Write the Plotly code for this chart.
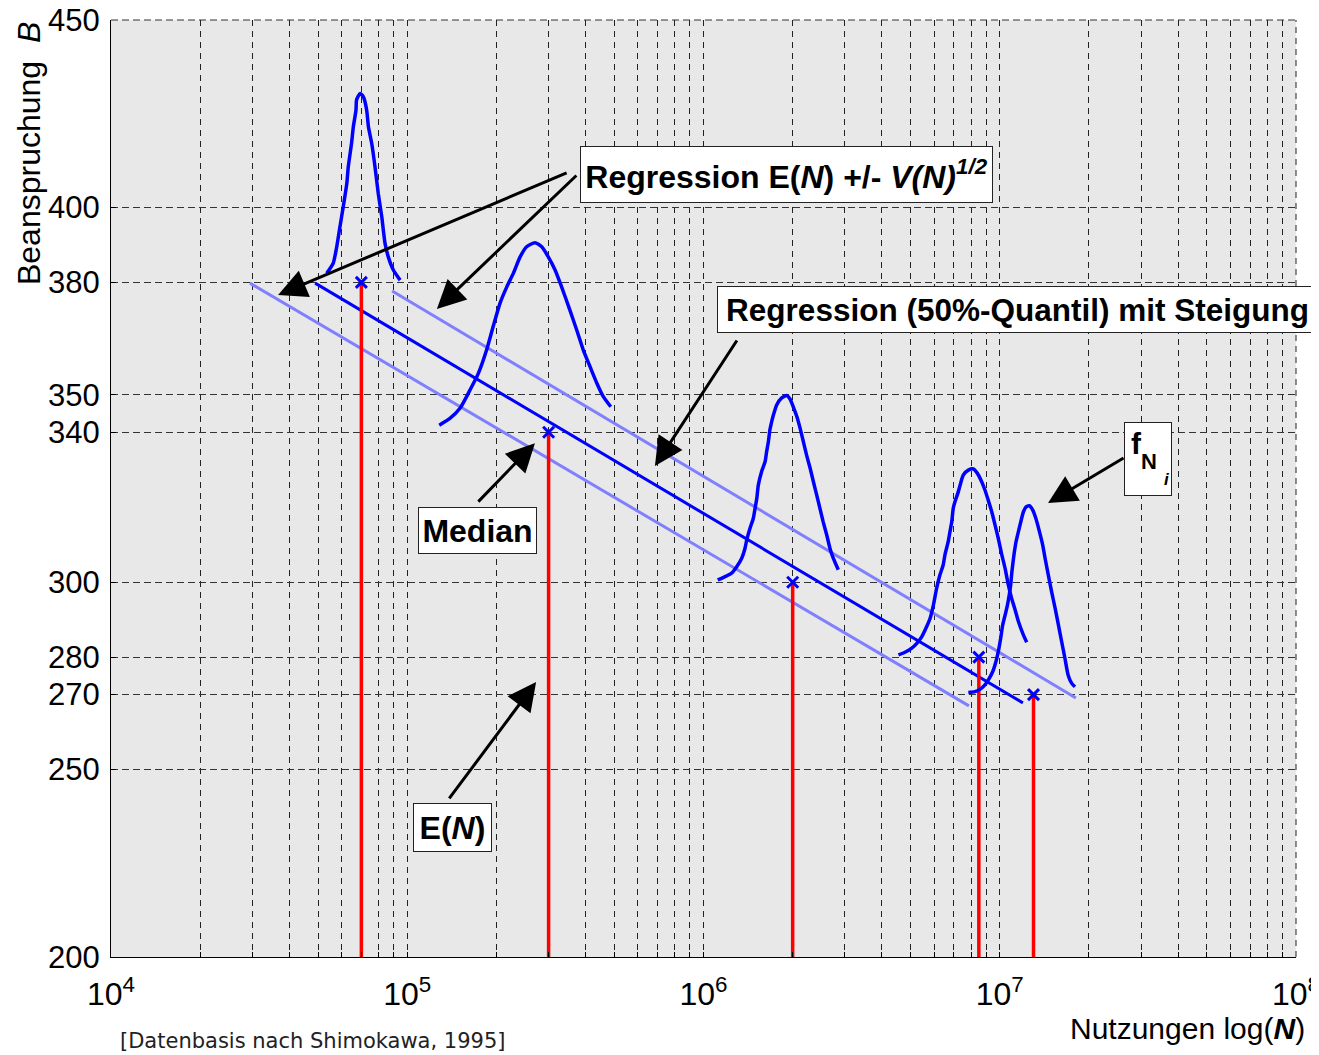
import plotly.graph_objects as go

# ---------------- data ----------------
N_points = [7.0e4, 3.0e5, 2.0e6, 8.5e6, 1.3e7]
B_points = [380, 340, 300, 280, 270]

# regression lines (log10 N, B)
reg_med_logN = [4.689, 7.078]
reg_med_B = [379.8, 267.8]
reg_up_logN = [4.949, 7.257]
reg_up_B = [377.7, 269.1]
reg_lo_logN = [4.469, 6.896]
reg_lo_B = [379.8, 267.0]

# density curves f_Ni (log10 N, B)
f1_logN = [4.728, 4.750, 4.762, 4.773, 4.784, 4.796, 4.801, 4.812, 4.818, 4.827, 4.829, 4.841,
           4.852, 4.863, 4.869, 4.880, 4.891, 4.902, 4.914, 4.925, 4.936, 4.953, 4.976]
f1_B = [382.4, 385.1, 389.5, 394.9, 400.2, 406.4, 410.9, 417.1, 421.5, 426.0, 428.7, 430.4,
        429.5, 426.0, 421.5, 417.1, 410.9, 403.8, 397.5, 390.4, 386.8, 383.3, 380.6]

f2_logN = [5.108, 5.144, 5.178, 5.212, 5.240, 5.268, 5.290, 5.313, 5.336, 5.358, 5.381, 5.403,
           5.431, 5.454, 5.476, 5.499, 5.521, 5.549, 5.572, 5.594, 5.617, 5.640, 5.662, 5.687]
f2_B = [341.9, 343.7, 346.4, 351.3, 355.7, 362.0, 368.2, 374.4, 378.8, 382.4, 386.8, 389.5,
        390.6, 389.5, 386.8, 383.3, 378.8, 372.6, 367.3, 362.0, 357.5, 353.1, 349.5, 346.8]

f3_logN = [6.048, 6.073, 6.095, 6.112, 6.129, 6.140, 6.146, 6.157, 6.168, 6.174, 6.180, 6.185,
           6.196, 6.208, 6.213, 6.219, 6.224, 6.230, 6.236, 6.247, 6.264, 6.281, 6.292, 6.303,
           6.315, 6.326, 6.337, 6.348, 6.360, 6.371, 6.382, 6.393, 6.404, 6.416, 6.427, 6.438, 6.455]
f3_B = [300.6, 301.5, 302.4, 304.1, 306.4, 309.0, 311.3, 314.4, 317.0, 319.7, 322.4, 325.9,
        329.5, 332.2, 334.8, 337.5, 340.6, 342.8, 344.6, 347.3, 349.2, 349.8, 348.9, 346.8,
        344.2, 341.1, 337.5, 333.9, 330.4, 326.8, 323.3, 319.7, 316.1, 312.6, 309.0, 306.4, 303.3]

f4_logN = [6.658, 6.680, 6.703, 6.720, 6.737, 6.753, 6.765, 6.776, 6.787, 6.798, 6.809, 6.815,
           6.826, 6.832, 6.838, 6.843, 6.849, 6.860, 6.868, 6.877, 6.894, 6.911, 6.924, 6.939,
           6.950, 6.961, 6.973, 6.984, 6.995, 7.007, 7.018, 7.029, 7.040, 7.052, 7.063, 7.080, 7.091]
f4_B = [280.6, 281.3, 282.4, 283.7, 285.5, 288.1, 290.4, 293.9, 298.4, 301.9, 304.6, 307.3,
        310.8, 313.5, 316.1, 319.7, 321.5, 324.1, 326.4, 328.6, 329.9, 330.2, 329.1, 326.8,
        324.6, 321.9, 318.8, 315.3, 311.7, 307.3, 303.7, 299.3, 295.7, 292.6, 289.5, 285.9, 284.0]

f5_logN = [6.894, 6.916, 6.933, 6.950, 6.965, 6.976, 6.987, 6.995, 7.003, 7.010, 7.018, 7.026,
           7.032, 7.037, 7.041, 7.048, 7.055, 7.063, 7.071, 7.080, 7.089, 7.100, 7.111, 7.122,
           7.134, 7.145, 7.153, 7.164, 7.175, 7.187, 7.198, 7.209, 7.220, 7.231, 7.243, 7.254]
f5_B = [270.6, 270.8, 271.4, 272.6, 274.4, 276.1, 278.8, 281.5, 285.0, 288.6, 291.2, 293.9,
        296.6, 299.3, 302.8, 307.3, 310.8, 313.5, 316.1, 318.8, 320.1, 320.4, 319.3, 317.0,
        313.5, 309.9, 306.4, 301.9, 297.5, 293.0, 288.6, 284.1, 279.7, 275.2, 273.0, 272.1]

y_ticks = [200, 250, 270, 280, 300, 340, 350, 380, 400, 450]
x_decades = [4, 5, 6, 7, 8]

B_MIN, B_MAX = 200, 450
LOG_MIN, LOG_MAX = 4, 8

BLUE = "#0000ff"
LIGHT = "#8080ff"
RED = "#ff0000"
FONT = "Liberation Sans, Arial, Helvetica, sans-serif"

fig = go.Figure()


def pow10(vals):
    return [10 ** v for v in vals]


# regression lines
fig.add_trace(go.Scatter(x=pow10(reg_lo_logN), y=reg_lo_B, mode="lines",
                         line=dict(color=LIGHT, width=3), hoverinfo="skip"))
fig.add_trace(go.Scatter(x=pow10(reg_up_logN), y=reg_up_B, mode="lines",
                         line=dict(color=LIGHT, width=3), hoverinfo="skip"))
fig.add_trace(go.Scatter(x=pow10(reg_med_logN), y=reg_med_B, mode="lines",
                         line=dict(color=BLUE, width=3), hoverinfo="skip"))

# red stems
sx, sy = [], []
for n, b in zip(N_points, B_points):
    sx += [n, n, None]
    sy += [B_MIN, b, None]
fig.add_trace(go.Scatter(x=sx, y=sy, mode="lines", line=dict(color=RED, width=3.5),
                         hoverinfo="skip"))

# density curves
for lx, ly in [(f1_logN, f1_B), (f2_logN, f2_B), (f3_logN, f3_B), (f4_logN, f4_B), (f5_logN, f5_B)]:
    fig.add_trace(go.Scatter(x=pow10(lx), y=ly, mode="lines",
                             line=dict(color=BLUE, width=3.5, shape="spline", smoothing=0.6),
                             hoverinfo="skip"))

# markers
fig.add_trace(go.Scatter(x=N_points, y=B_points, mode="markers",
                         marker=dict(symbol="x-thin", size=11, color=BLUE,
                                     line=dict(color=BLUE, width=3))))

# axes
xt_vals, xt_text = [], []
for d in x_decades:
    if d == LOG_MAX:
        xt_vals.append(10 ** d)
        xt_text.append(f"10<sup>{d}</sup>")
        break
    for m in range(1, 10):
        xt_vals.append(m * 10 ** d)
        xt_text.append(f"10<sup>{d}</sup>" if m == 1 else "")

fig.update_xaxes(type="log", range=[LOG_MIN, LOG_MAX], tickmode="array",
                 tickvals=xt_vals, ticktext=xt_text, automargin=False,
                 showgrid=True, gridcolor="#222", gridwidth=1, griddash="6px,5px",
                 showline=True, linecolor="black", linewidth=1, mirror=False,
                 ticks="inside", ticklen=5, tickcolor="black", ticklabelstandoff=9,
                 ticklabeloverflow="allow",
                 tickfont=dict(family=FONT, size=32, color="black"),
                 zeroline=False)
fig.update_yaxes(range=[B_MIN, B_MAX], tickmode="array", tickvals=y_ticks,
                 ticktext=[str(v) for v in y_ticks], automargin=False,
                 showgrid=True, gridcolor="#333", gridwidth=1, griddash="7px,4px",
                 showline=True, linecolor="black", linewidth=1, mirror=False,
                 ticks="inside", ticklen=5, tickcolor="black", ticklabelstandoff=4,
                 ticklabeloverflow="allow",
                 tickfont=dict(family=FONT, size=31, color="black"),
                 zeroline=False)

# dashed grid lines on the top (450) and right (1e8) edges
fig.add_shape(type="line", xref="paper", yref="paper", x0=0, x1=1, y0=1, y1=1,
              line=dict(color="#333", width=1, dash="7px,4px"), layer="below")
fig.add_shape(type="line", xref="paper", yref="paper", x0=1, x1=1, y0=0, y1=1,
              line=dict(color="#222", width=1, dash="6px,5px"), layer="below")

ann = []


def arrow(hx, hy, tx, ty):
    ann.append(dict(x=hx, y=hy, ax=tx, ay=ty, xref="x", yref="y", axref="x", ayref="y",
                    text="", showarrow=True, arrowhead=2, arrowsize=1.9, arrowwidth=3,
                    arrowcolor="black", standoff=0, startstandoff=0))


def box(cx, cy, text, w, h, size=32):
    ann.append(dict(x=cx, y=cy, xref="x", yref="y", text=text, showarrow=False,
                    xanchor="center", yanchor="middle", width=w, height=h,
                    bgcolor="white", bordercolor="#222", borderwidth=1, borderpad=0,
                    font=dict(family=FONT, size=size, color="black")))


# arrows (head log10N, head B, tail log10N, tail B)
arrow(4.564, 376.6, 5.543, 409.4)
arrow(5.100, 372.9, 5.576, 408.9)
arrow(5.836, 331.0, 6.116, 364.9)
arrow(7.163, 321.1, 7.423, 333.4)
arrow(5.431, 337.1, 5.235, 321.1)
arrow(5.435, 273.4, 5.138, 241.9)

box(6.280, 408.8, "<b>Regression E(<i>N</i>) +/- <i>V(N)</i><sup><i>1/2</i></sup></b>", 411, 55)
box(7.060, 372.8, "<b>Regression (50%-Quantil) mit Steigung</b>", 599, 45, size=31.5)
box(5.237, 313.8, "<b>Median</b>", 117, 45)
box(5.153, 234.6, "<b>E(<i>N</i>)</b>", 77, 47)
box(7.502, 332.8, "", 46, 72)
ann.append(dict(x=7.463, y=337.1, xref="x", yref="y", text="<b>f</b>", showarrow=False,
                font=dict(family=FONT, size=30, color="black")))
ann.append(dict(x=7.505, y=332.3, xref="x", yref="y", text="<b>N</b>", showarrow=False,
                font=dict(family=FONT, size=22, color="black")))
ann.append(dict(x=7.565, y=327.5, xref="x", yref="y", text="<b><i>i</i></b>", showarrow=False,
                font=dict(family=FONT, size=17, color="black")))

# axis titles and footnote
ann.append(dict(x=-0.0692, y=0.858, xref="paper", yref="paper", text="Beanspruchung  <i>B</i>",
                textangle=-90, showarrow=False, xanchor="center", yanchor="middle",
                font=dict(family=FONT, size=32, color="black")))
ann.append(dict(x=1.0093, y=-0.0758, xref="paper", yref="paper",
                text="Nutzungen log(<b><i>N</i></b>)", showarrow=False,
                xanchor="right", yanchor="middle",
                font=dict(family=FONT, size=30, color="black")))
ann.append(dict(x=0.0059, y=-0.0896, xref="paper", yref="paper",
                text="[Datenbasis nach Shimokawa, 1995]", showarrow=False,
                xanchor="left", yanchor="middle",
                font=dict(family="DejaVu Sans, Verdana, sans-serif", size=21, color="#222")))

# the page body has an 8px default margin: size the figure so the plot area
# lands at the same window pixels as the reference
PAGE_OFF = 8
fig.update_layout(width=1319 - PAGE_OFF, height=1055 - PAGE_OFF,
                  margin=dict(l=111 - PAGE_OFF, r=23, t=20 - PAGE_OFF, b=98),
                  paper_bgcolor="white", plot_bgcolor="#e8e8e8", showlegend=False,
                  annotations=ann)

fig.write_html("out.html")
